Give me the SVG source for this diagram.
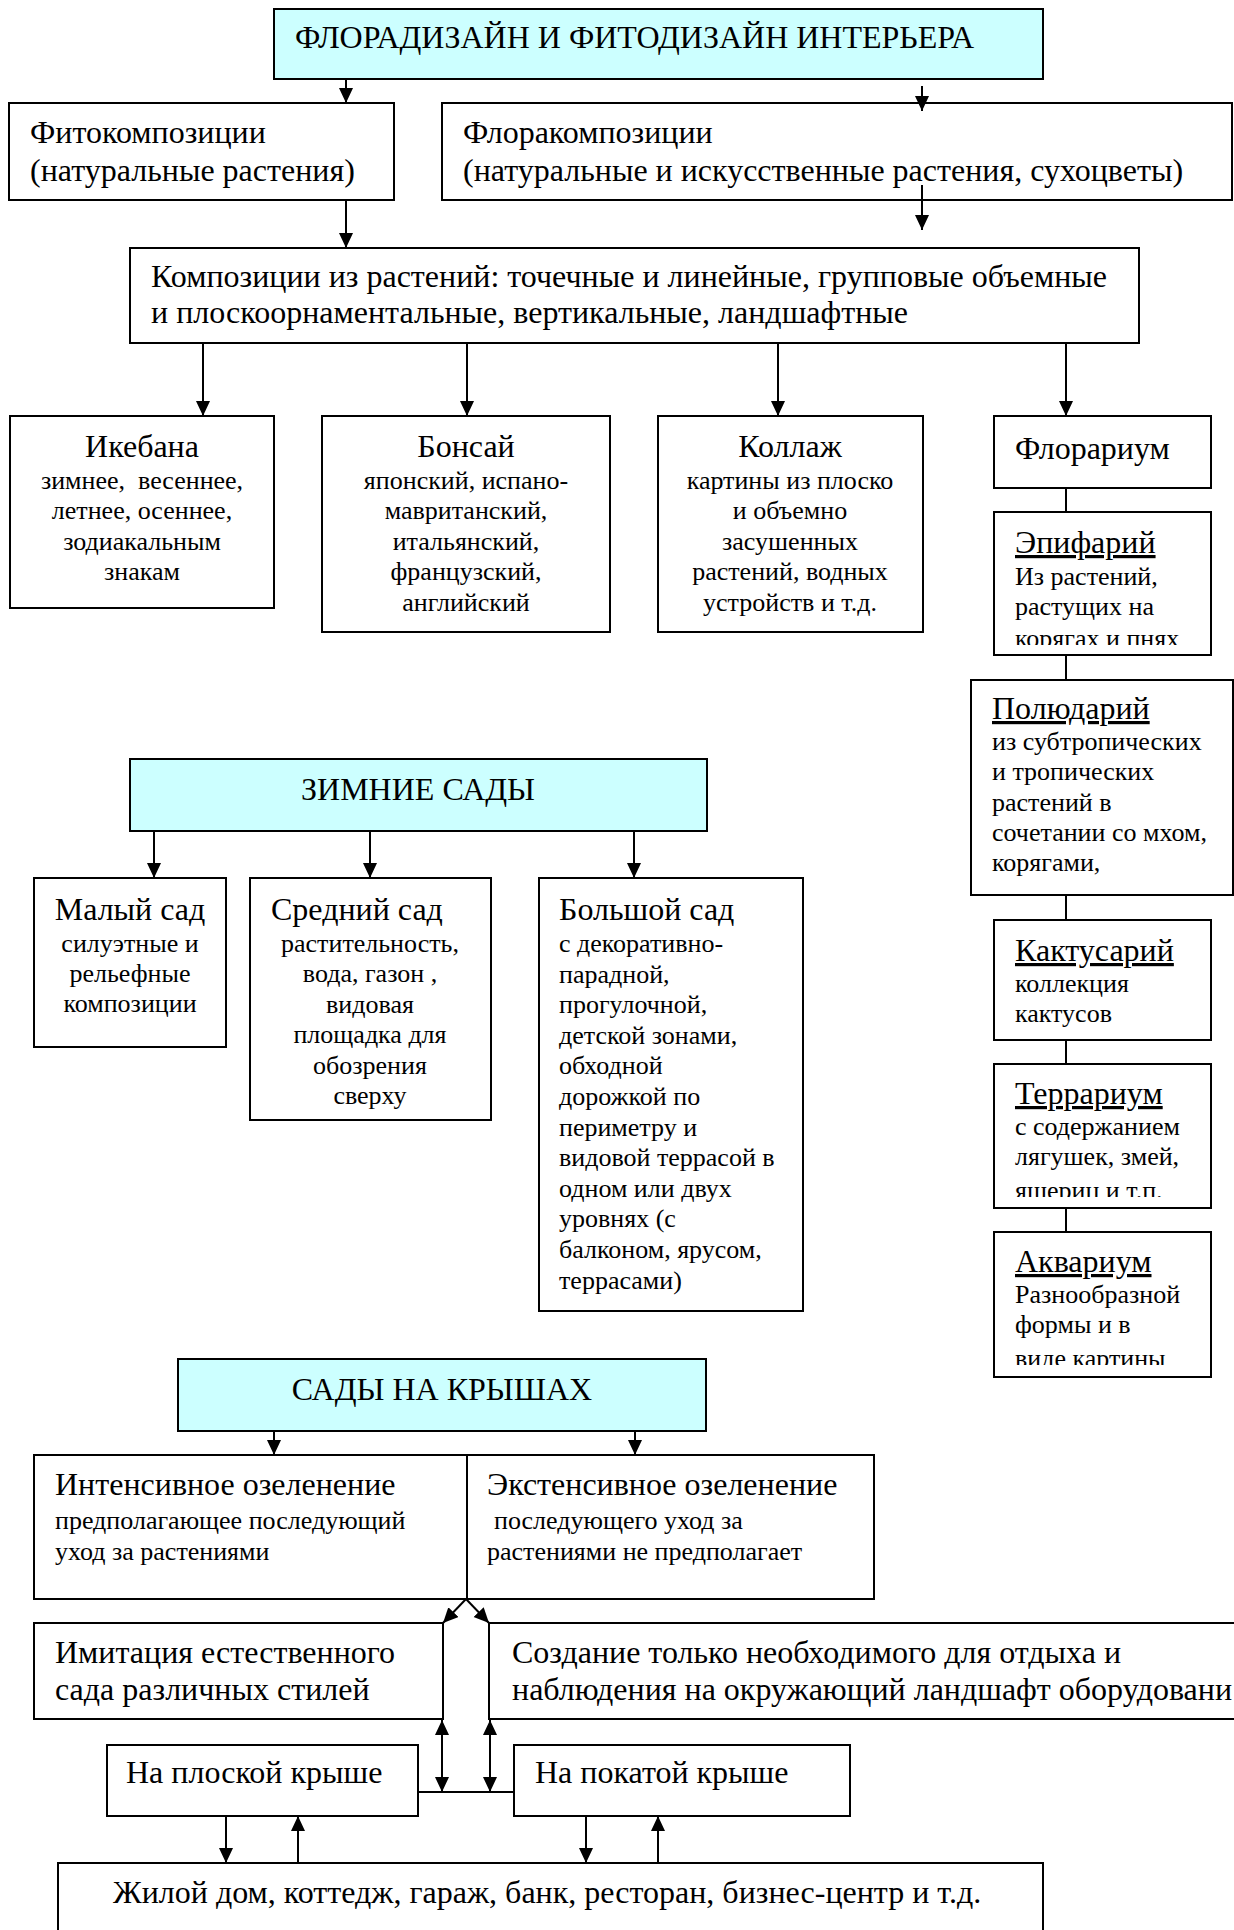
<svg xmlns="http://www.w3.org/2000/svg" width="1234" height="1930" viewBox="0 0 1234 1930">
<style>
  rect.b { fill: #ffffff; stroke: #000; stroke-width: 2; }
  rect.h { fill: #ccffff; stroke: #000; stroke-width: 2; }
  text { font-family: "Liberation Serif", "Times New Roman", serif; fill: #000; }
  .m { font-size: 32px; }
  .s { font-size: 26px; }
  .c { text-anchor: middle; }
  .u { text-decoration: underline; }
  .ln { stroke: #000; stroke-width: 2; fill: none; }
  .ar { marker-end: url(#ah); }
  .dar { marker-end: url(#ah); marker-start: url(#ahs); }
</style>
<defs>
  <marker id="ah" markerUnits="userSpaceOnUse" markerWidth="16" markerHeight="16" refX="15" refY="7" orient="auto">
    <path d="M0,0 L15,7 L0,14 z" fill="#000"/>
  </marker>
  <marker id="ahs" markerUnits="userSpaceOnUse" markerWidth="16" markerHeight="16" refX="15" refY="7" orient="auto-start-reverse">
    <path d="M0,0 L15,7 L0,14 z" fill="#000"/>
  </marker>
  <clipPath id="cEpi"><rect x="994" y="512" width="217" height="133"/></clipPath>
  <clipPath id="cTer"><rect x="994" y="1064" width="217" height="133"/></clipPath>
  <clipPath id="cAqu"><rect x="994" y="1232" width="217" height="133"/></clipPath>
</defs>

<g id="n-top">
  <rect class="h" x="274" y="9" width="769" height="70"/>
  <text class="m" x="295" y="48">ФЛОРАДИЗАЙН И ФИТОДИЗАЙН ИНТЕРЬЕРА</text>
</g>
<g id="n-fito">
  <rect class="b" x="9" y="103" width="385" height="97"/>
  <text class="m" x="30" y="143">Фитокомпозиции</text>
  <text class="m" x="30" y="181">(натуральные растения)</text>
</g>
<g id="n-flora">
  <rect class="b" x="442" y="103" width="790" height="97"/>
  <text class="m" x="463" y="143">Флоракомпозиции</text>
  <text class="m" x="463" y="181">(натуральные и искусственные растения, сухоцветы)</text>
</g>
<g id="n-comp">
  <rect class="b" x="130" y="248" width="1009" height="95"/>
  <text class="m" x="151" y="287">Композиции из растений: точечные и линейные, групповые объемные</text>
  <text class="m" x="151" y="323">и плоскоорнаментальные, вертикальные, ландшафтные</text>
</g>
<g id="n-ikebana">
  <rect class="b" x="10" y="416" width="264" height="192"/>
  <text class="m c" x="142" y="457">Икебана</text>
  <text class="s c" x="142" y="489" xml:space="preserve">зимнее,  весеннее,</text>
  <text class="s c" x="142" y="519">летнее, осеннее,</text>
  <text class="s c" x="142" y="550">зодиакальным</text>
  <text class="s c" x="142" y="580">знакам</text>
</g>
<g id="n-bonsai">
  <rect class="b" x="322" y="416" width="288" height="216"/>
  <text class="m c" x="466" y="457">Бонсай</text>
  <text class="s c" x="466" y="489">японский, испано-</text>
  <text class="s c" x="466" y="519">мавританский,</text>
  <text class="s c" x="466" y="550">итальянский,</text>
  <text class="s c" x="466" y="580">французский,</text>
  <text class="s c" x="466" y="611">английский</text>
</g>
<g id="n-collage">
  <rect class="b" x="658" y="416" width="265" height="216"/>
  <text class="m c" x="790" y="457">Коллаж</text>
  <text class="s c" x="790" y="489">картины из плоско</text>
  <text class="s c" x="790" y="519">и объемно</text>
  <text class="s c" x="790" y="550">засушенных</text>
  <text class="s c" x="790" y="580">растений, водных</text>
  <text class="s c" x="790" y="611">устройств и т.д.</text>
</g>
<g id="n-florarium">
  <rect class="b" x="994" y="416" width="217" height="72"/>
  <text class="m" x="1015" y="459">Флорариум</text>
</g>
<g id="n-epifariy">
  <rect class="b" x="994" y="512" width="217" height="143"/>
  <g clip-path="url(#cEpi)">
    <text class="m u" x="1015" y="553">Эпифарий</text>
    <text class="s" x="1015" y="585">Из растений,</text>
    <text class="s" x="1015" y="615">растущих на</text>
    <text class="s" x="1015" y="647">корягах и пнях</text>
  </g>
</g>
<g id="n-poludariy">
  <rect class="b" x="971" y="680" width="262" height="215"/>
  <text class="m u" x="992" y="719">Полюдарий</text>
  <text class="s" x="992" y="750">из субтропических</text>
  <text class="s" x="992" y="780">и тропических</text>
  <text class="s" x="992" y="811">растений в</text>
  <text class="s" x="992" y="841">сочетании со мхом,</text>
  <text class="s" x="992" y="871">корягами,</text>
</g>
<g id="n-kaktusariy">
  <rect class="b" x="994" y="920" width="217" height="120"/>
  <text class="m u" x="1015" y="961">Кактусарий</text>
  <text class="s" x="1015" y="992">коллекция</text>
  <text class="s" x="1015" y="1022">кактусов</text>
</g>
<g id="n-terrarium">
  <rect class="b" x="994" y="1064" width="217" height="144"/>
  <g clip-path="url(#cTer)">
    <text class="m u" x="1015" y="1104">Террариум</text>
    <text class="s" x="1015" y="1135">с содержанием</text>
    <text class="s" x="1015" y="1165">лягушек, змей,</text>
    <text class="s" x="1015" y="1199">ящериц и т.п.</text>
  </g>
</g>
<g id="n-aquarium">
  <rect class="b" x="994" y="1232" width="217" height="145"/>
  <g clip-path="url(#cAqu)">
    <text class="m u" x="1015" y="1272">Аквариум</text>
    <text class="s" x="1015" y="1303">Разнообразной</text>
    <text class="s" x="1015" y="1333">формы и в</text>
    <text class="s" x="1015" y="1367">виде картины</text>
  </g>
</g>

<g id="n-zimnie">
  <rect class="h" x="130" y="759" width="577" height="72"/>
  <text class="m c" x="418" y="800">ЗИМНИЕ САДЫ</text>
</g>
<g id="n-maly">
  <rect class="b" x="34" y="878" width="192" height="169"/>
  <text class="m c" x="130" y="920">Малый сад</text>
  <text class="s c" x="130" y="952">силуэтные и</text>
  <text class="s c" x="130" y="982">рельефные</text>
  <text class="s c" x="130" y="1012">композиции</text>
</g>
<g id="n-sredniy">
  <rect class="b" x="250" y="878" width="241" height="242"/>
  <text class="m" x="271" y="920">Средний сад</text>
  <text class="s c" x="370" y="952">растительность,</text>
  <text class="s c" x="370" y="982">вода, газон ,</text>
  <text class="s c" x="370" y="1013">видовая</text>
  <text class="s c" x="370" y="1043">площадка для</text>
  <text class="s c" x="370" y="1074">обозрения</text>
  <text class="s c" x="370" y="1104">сверху</text>
</g>
<g id="n-bolshoy">
  <rect class="b" x="539" y="878" width="264" height="433"/>
  <text class="m" x="559" y="920">Большой сад</text>
  <text class="s" x="559" y="952">с декоративно-</text>
  <text class="s" x="559" y="983">парадной,</text>
  <text class="s" x="559" y="1013">прогулочной,</text>
  <text class="s" x="559" y="1044">детской зонами,</text>
  <text class="s" x="559" y="1074">обходной</text>
  <text class="s" x="559" y="1105">дорожкой по</text>
  <text class="s" x="559" y="1136">периметру и</text>
  <text class="s" x="559" y="1166">видовой террасой в</text>
  <text class="s" x="559" y="1197">одном или двух</text>
  <text class="s" x="559" y="1227">уровнях (с</text>
  <text class="s" x="559" y="1258">балконом, ярусом,</text>
  <text class="s" x="559" y="1289">террасами)</text>
</g>

<g id="n-kryshi">
  <rect class="h" x="178" y="1359" width="528" height="72"/>
  <text class="m c" x="442" y="1400">САДЫ НА КРЫШАХ</text>
</g>
<g id="n-intensive">
  <rect class="b" x="34" y="1455" width="433" height="144"/>
  <text class="m" x="55" y="1495">Интенсивное озеленение</text>
  <text class="s" x="55" y="1529">предполагающее последующий</text>
  <text class="s" x="55" y="1560">уход за растениями</text>
</g>
<g id="n-extensive">
  <rect class="b" x="467" y="1455" width="407" height="144"/>
  <text class="m" x="487" y="1495">Экстенсивное озеленение</text>
  <text class="s" x="494" y="1529">последующего уход за</text>
  <text class="s" x="487" y="1560">растениями не предполагает</text>
</g>
<g id="n-imitatsiya">
  <rect class="b" x="34" y="1623" width="409" height="96"/>
  <text class="m" x="55" y="1663">Имитация естественного</text>
  <text class="m" x="55" y="1700">сада различных стилей</text>
</g>
<g id="n-sozdanie">
  <rect class="b" x="489" y="1623" width="760" height="96"/>
  <text class="m" x="512" y="1663">Создание только необходимого для отдыха и</text>
  <text class="m" x="512" y="1700">наблюдения на окружающий ландшафт оборудовани</text>
</g>
<g id="n-ploskaya">
  <rect class="b" x="107" y="1745" width="311" height="71"/>
  <text class="m" x="126" y="1783">На плоской крыше</text>
</g>
<g id="n-pokataya">
  <rect class="b" x="514" y="1745" width="336" height="71"/>
  <text class="m" x="535" y="1783">На покатой крыше</text>
</g>
<g id="n-bottom">
  <rect class="b" x="58" y="1863" width="985" height="80"/>
  <text class="m" x="113" y="1903">Жилой дом, коттедж, гараж, банк, ресторан, бизнес-центр и т.д.</text>
</g>

<g id="connectors">
  <line class="ln ar" x1="346" y1="79" x2="346" y2="103"/>
  <line class="ln ar" x1="922" y1="86" x2="922" y2="111"/>
  <line class="ln ar" x1="346" y1="200" x2="346" y2="248"/>
  <line class="ln ar" x1="922" y1="185" x2="922" y2="230"/>
  <line class="ln ar" x1="203" y1="343" x2="203" y2="416"/>
  <line class="ln ar" x1="467" y1="343" x2="467" y2="416"/>
  <line class="ln ar" x1="778" y1="343" x2="778" y2="416"/>
  <line class="ln ar" x1="1066" y1="343" x2="1066" y2="416"/>
  <line class="ln" x1="1066" y1="488" x2="1066" y2="512"/>
  <line class="ln" x1="1066" y1="655" x2="1066" y2="680"/>
  <line class="ln" x1="1066" y1="895" x2="1066" y2="920"/>
  <line class="ln" x1="1066" y1="1040" x2="1066" y2="1064"/>
  <line class="ln" x1="1066" y1="1208" x2="1066" y2="1232"/>
  <line class="ln ar" x1="154" y1="831" x2="154" y2="878"/>
  <line class="ln ar" x1="370" y1="831" x2="370" y2="878"/>
  <line class="ln ar" x1="634" y1="831" x2="634" y2="878"/>
  <line class="ln ar" x1="274" y1="1431" x2="274" y2="1455"/>
  <line class="ln ar" x1="635" y1="1431" x2="635" y2="1455"/>
  <line class="ln ar" x1="466" y1="1599" x2="443" y2="1623"/>
  <line class="ln ar" x1="466" y1="1599" x2="489" y2="1623"/>
  <line class="ln dar" x1="442" y1="1720" x2="442" y2="1792"/>
  <line class="ln dar" x1="490" y1="1720" x2="490" y2="1792"/>
  <line class="ln" x1="418" y1="1792" x2="514" y2="1792"/>
  <line class="ln ar" x1="226" y1="1816" x2="226" y2="1863"/>
  <line class="ln ar" x1="298" y1="1863" x2="298" y2="1816"/>
  <line class="ln ar" x1="586" y1="1816" x2="586" y2="1863"/>
  <line class="ln ar" x1="658" y1="1863" x2="658" y2="1816"/>
</g>
</svg>
